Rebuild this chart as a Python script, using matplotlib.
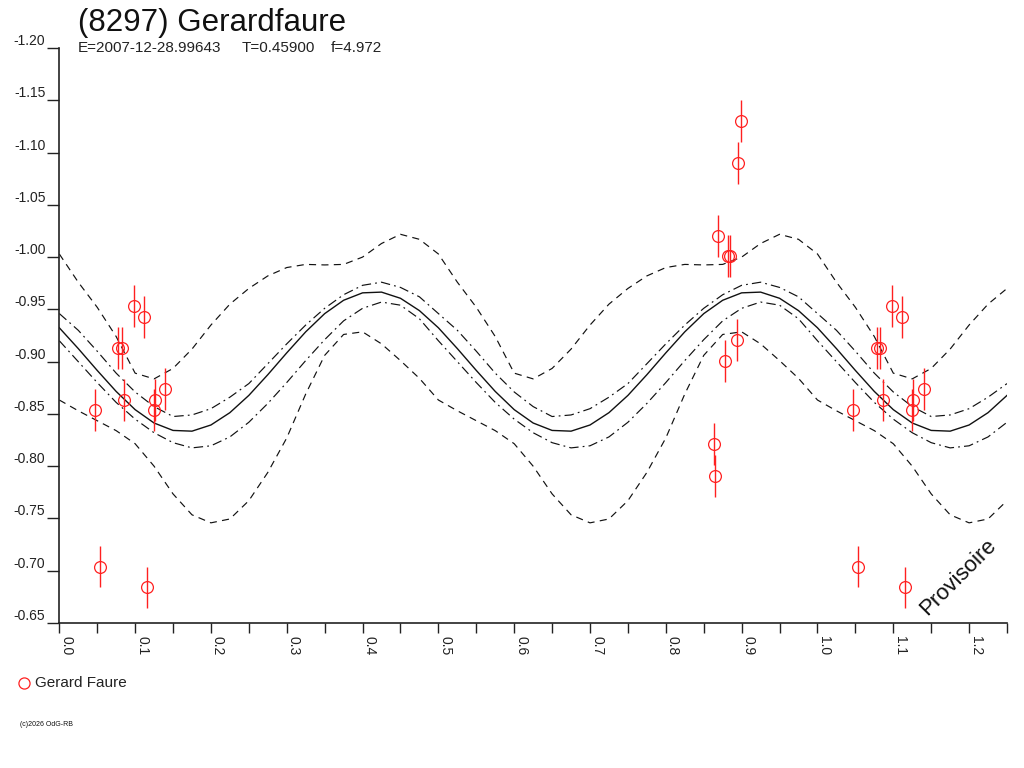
import numpy as np
import matplotlib
matplotlib.use("Agg")
import matplotlib.pyplot as plt
from matplotlib.lines import Line2D

plt.rcParams['font.family'] = ['Liberation Sans', 'DejaVu Sans']

# observations : phase, reduced magnitude, error
obs_phase = [0.047, 0.054, 0.078, 0.083, 0.086, 0.0985, 0.1117, 0.116, 0.1245, 0.1258, 0.140,
             0.8634, 0.865, 0.869, 0.878, 0.882, 0.885, 0.8937, 0.8955, 0.899]
obs_mag = [-0.854, -0.704, -0.913, -0.913, -0.863, -0.953, -0.943, -0.684, -0.854, -0.863, -0.874,
           -0.821, -0.791, -1.020, -0.901, -1.001, -1.001, -0.921, -1.090, -1.130]
obs_err = [0.020] * 20

# fitted curve and envelopes, read every 0.025 in phase over half a period (0 .. 0.5)
curve_step = 0.025
fit_mag = [-0.9324, -0.9125, -0.8916, -0.8715, -0.8541, -0.8413, -0.8342, -0.8335, -0.8394, -0.8512,
           -0.8677, -0.8875, -0.9084, -0.9285, -0.9459, -0.9587, -0.9658, -0.9665, -0.9606, -0.9488, -0.9324]
fit_up = [-0.946, -0.930, -0.910, -0.889, -0.871, -0.857, -0.8475, -0.849, -0.855, -0.866,
          -0.879, -0.898, -0.917, -0.935, -0.951, -0.964, -0.973, -0.976, -0.971, -0.962, -0.946]
fit_low = [-0.920, -0.900, -0.880, -0.861, -0.845, -0.832, -0.8225, -0.8175, -0.8195, -0.828,
           -0.842, -0.860, -0.880, -0.901, -0.921, -0.939, -0.951, -0.957, -0.954, -0.941, -0.920]
env_up = [-1.003, -0.976, -0.952, -0.924, -0.889, -0.8835, -0.8935, -0.912, -0.935, -0.955,
          -0.970, -0.982, -0.990, -0.993, -0.9925, -0.993, -1.000, -1.013, -1.0218, -1.017, -1.003]
env_low = [-0.8633, -0.853, -0.8435, -0.834, -0.8215, -0.800, -0.7735, -0.7535, -0.7458, -0.7495,
           -0.767, -0.794, -0.827, -0.869, -0.906, -0.926, -0.9285, -0.917, -0.901, -0.884, -0.8633]

x_ticks = [0.0, 0.1, 0.2, 0.3, 0.4, 0.5, 0.6, 0.7, 0.8, 0.9, 1.0, 1.1, 1.2]
y_ticks = [-1.20, -1.15, -1.10, -1.05, -1.00, -0.95, -0.90, -0.85, -0.80, -0.75, -0.70, -0.65]

title = "(8297) Gerardfaure"
observer = "Gerard Faure"

fig = plt.figure(figsize=(10.24, 7.68), dpi=100)
ax = fig.add_axes([0.0579, 0.1888, 0.9255, 0.7487])

# curves, repeated over 0 .. 1.25
n = int(round(1.25 / curve_step)) + 1
grid = np.arange(n) * curve_step
def unfold(half):
    return np.tile(half[:-1], 3)[:n]

ax.plot(grid, unfold(env_up), color='#111111', lw=0.85, dashes=(6, 4.5))
ax.plot(grid, unfold(env_low), color='#111111', lw=0.85, dashes=(6, 4.5))
ax.plot(grid, unfold(fit_up), color='#111111', lw=0.85, dashes=(8, 3.5, 1.5, 3.5))
ax.plot(grid, unfold(fit_low), color='#111111', lw=0.85, dashes=(8, 3.5, 1.5, 3.5))
ax.plot(grid, unfold(fit_mag), color='#111111', lw=1.0)

# observations, with a copy one period later when it stays on the plot
ph = np.array(obs_phase)
mg = np.array(obs_mag)
er = np.array(obs_err)
rep = ph + 1 <= 1.25
ph_all = np.concatenate([ph, ph[rep] + 1])
mg_all = np.concatenate([mg, mg[rep]])
er_all = np.concatenate([er, er[rep]])
ax.errorbar(ph_all, mg_all, yerr=er_all, fmt='none', ecolor='#ff2020', elinewidth=1.0, capsize=0)
ax.plot(ph_all, mg_all, 'o', ms=8.5, mfc='none', mec='#ff2020', mew=0.9, ls='none')

ax.set_xlim(0, 1.25)
ax.set_ylim(-0.65, -1.20)

for s in ['top', 'right']:
    ax.spines[s].set_visible(False)
for s in ['left', 'bottom']:
    ax.spines[s].set_linewidth(1.2)
    ax.spines[s].set_color('#222222')

ax.set_xticks(x_ticks)
ax.set_xticklabels(["%.1f" % v for v in x_ticks])
ax.set_xticks(np.array(x_ticks) + 0.05, minor=True)
ax.set_yticks(y_ticks)
ax.set_yticklabels(["%.2f" % v for v in y_ticks])
ax.tick_params(axis='x', which='both', direction='out', length=7, width=1, pad=2,
               labelsize=10, colors='#222222')
ax.tick_params(axis='y', direction='out', length=9, width=1, pad=1, labelsize=10, colors='#222222')
plt.setp(ax.get_xticklabels(), rotation=270, ha='left', va='top')
plt.setp(ax.get_yticklabels(), va='bottom')

fig.text(78 / 1024, 1 - 31 / 768, title, fontsize=22.5, color='#111111', va='baseline')
fig.text(78 / 1024, 1 - 52 / 768, "E=2007-12-28.99643", fontsize=11, color='#222222', va='baseline')
fig.text(242 / 1024, 1 - 52 / 768, "T=0.45900", fontsize=11, color='#222222', va='baseline')
fig.text(331 / 1024, 1 - 52 / 768, "f=4.972", fontsize=11, color='#222222', va='baseline')

fig.text(958 / 1024, 1 - 577 / 768, "Provisoire", fontsize=16, rotation=45,
         ha='center', va='center', color='#111111')

fig.add_artist(Line2D([24 / 1024], [1 - 683 / 768], marker='o', ms=8, mfc='none',
                      mec='#ff2020', mew=0.9, ls='none', transform=fig.transFigure))
fig.text(35 / 1024, 1 - 683 / 768, observer, fontsize=11, color='#222222', va='center')
fig.text(20 / 1024, 1 - 724 / 768, "(c)2026 OdG-RB", fontsize=5, color='#111111', va='center')

fig.savefig("out.png", dpi=100)
